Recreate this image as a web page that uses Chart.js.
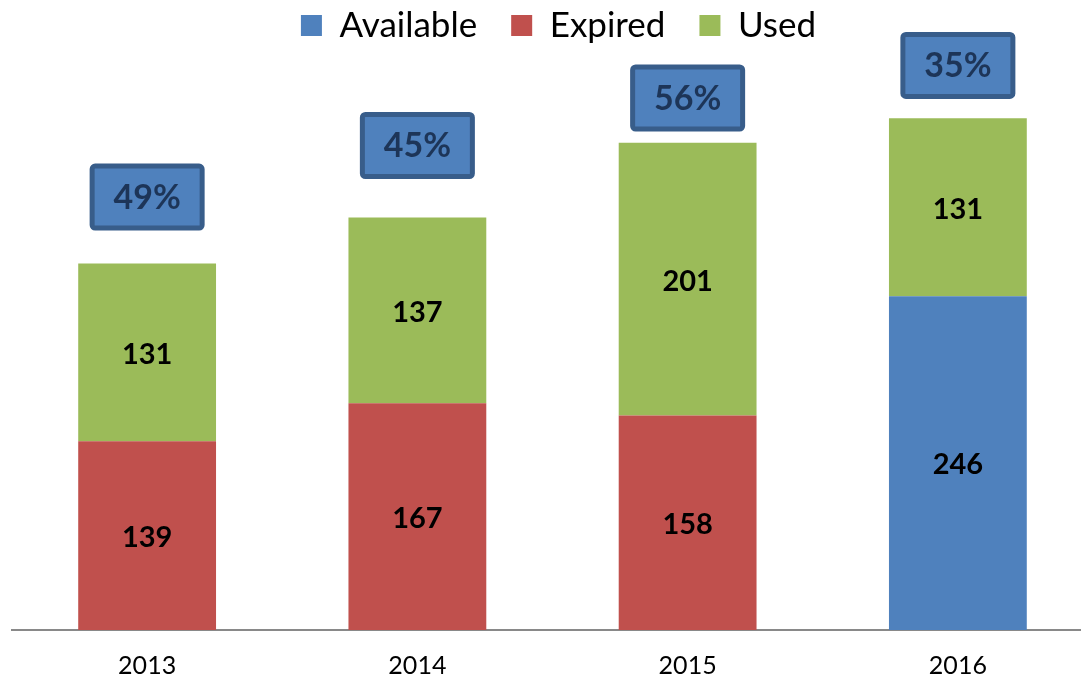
<!DOCTYPE html>
<html>
<head>
<meta charset="utf-8">
<script src="https://cdn.jsdelivr.net/npm/chart.js@4/dist/chart.umd.min.js"></script>
<style>
  html, body { margin: 0; padding: 0; background: #fff; overflow: hidden; }
  #wrap { width: 1081px; height: 675px; overflow: hidden; }
</style>
</head>
<body>
<div id="wrap"><canvas id="chart" width="1093" height="675"></canvas></div>
<script>
const years = ['2013', '2014', '2015', '2016'];
const available = [0, 0, 0, 246];
const expired = [139, 167, 158, 0];
const used = [131, 137, 201, 131];
const pctLabels = ['49%', '45%', '56%', '35%'];
// value level where each percentage box sits
const pctLevel = [319, 357, 392, 416];

const fontFamily = 'Lato, "Open Sans", sans-serif';

// fixed legend height, legend drawn a bit higher
const legendTweak = {
  id: 'legendTweak',
  beforeInit(chart) {
    const legend = chart.legend;
    const origFit = legend.fit;
    const origDraw = legend.draw;
    legend.fit = function () {
      origFit.call(this);
      this.height = 60;
    };
    legend.draw = function () {
      const ctx = this.ctx;
      const bottom = this.bottom;
      this.bottom = bottom + 26;
      ctx.save();
      ctx.translate(6, -26);
      origDraw.call(this);
      ctx.restore();
      this.bottom = bottom;
    };
  }
};

const barLabels = {
  id: 'barLabels',
  afterDatasetsDraw(chart) {
    const ctx = chart.ctx;
    ctx.save();
    ctx.font = 'bold 29px ' + fontFamily;
    ctx.fillStyle = '#000';
    ctx.textAlign = 'center';
    ctx.textBaseline = 'middle';
    chart.data.datasets.forEach((ds, di) => {
      const meta = chart.getDatasetMeta(di);
      meta.data.forEach((bar, i) => {
        const v = ds.data[i];
        if (!v) return;
        const y = (bar.y + bar.base) / 2;
        ctx.fillText(String(v), bar.x, y + 2);
      });
    });

    // percentage boxes
    const xs = chart.scales.x, ys = chart.scales.y;
    pctLabels.forEach((txt, i) => {
      const cx = xs.getPixelForValue(i);
      const cy = ys.getPixelForValue(pctLevel[i]);
      const w = 110, h = 62;
      ctx.beginPath();
      ctx.roundRect(cx - w / 2, cy - h / 2, w, h, 3);
      ctx.fillStyle = '#4F81BD';
      ctx.fill();
      ctx.lineWidth = 5;
      ctx.strokeStyle = '#385D8A';
      ctx.stroke();
      ctx.font = 'bold 34px ' + fontFamily;
      ctx.fillStyle = '#1D3558';
      ctx.fillText(txt, cx, cy + 1);
    });
    ctx.restore();
  }
};

new Chart(document.getElementById('chart'), {
  type: 'bar',
  data: {
    labels: years,
    datasets: [
      { label: 'Available', data: available, backgroundColor: '#4F81BD' },
      { label: 'Expired', data: expired, backgroundColor: '#C0504D' },
      { label: 'Used', data: used, backgroundColor: '#9BBB59' }
    ]
  },
  options: {
    responsive: false,
    animation: false,
    layout: { padding: { left: 12, right: 0, top: 0, bottom: 0 } },
    datasets: {
      bar: { barPercentage: 0.51, categoryPercentage: 1 }
    },
    scales: {
      x: {
        stacked: true,
        grid: { display: false, drawTicks: false },
        border: { display: true, color: '#898989', width: 2 },
        ticks: {
          padding: 21,
          color: '#000',
          font: { family: fontFamily, size: 25 }
        },
        afterFit(scale) { scale.height = 45; }
      },
      y: {
        stacked: true,
        display: false,
        min: 0,
        max: 420
      }
    },
    plugins: {
      tooltip: { enabled: false },
      legend: {
        position: 'top',
        labels: {
          boxWidth: 21,
          boxHeight: 21,
          padding: 34,
          color: '#000',
          font: { family: fontFamily, size: 35 }
        }
      }
    }
  },
  plugins: [legendTweak, barLabels]
});
</script>
</body>
</html>
